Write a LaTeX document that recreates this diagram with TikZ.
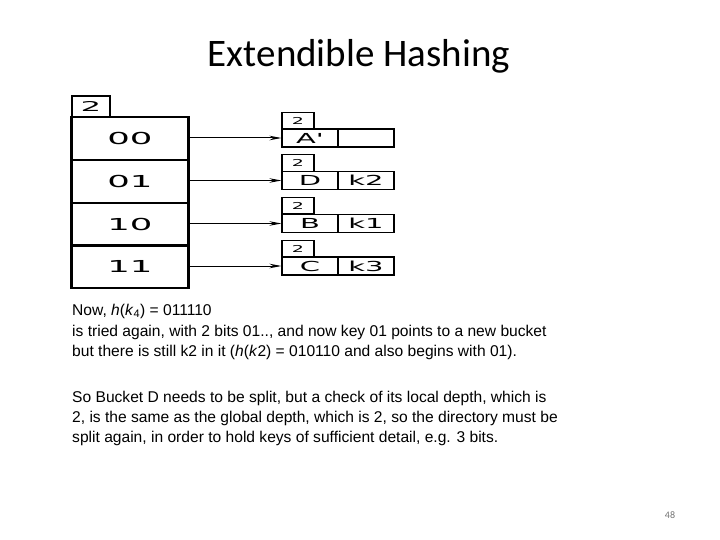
\documentclass[tikz,border=0pt]{standalone}
\usepackage{fontspec}
\setmainfont{Liberation Sans}
\newfontfamily\titlefont{Carlito}
\newfontfamily\diagfont{DejaVu Sans}
\usetikzlibrary{arrows.meta}
\newcommand\widetxt[2]{\scalebox{#1}[1]{#2}}
\begin{document}
\begin{tikzpicture}[x=1pt,y=-1pt,
  dirrow/.style={minimum width=116pt,minimum height=42.5pt,inner sep=0pt,font=\diagfont\fontsize{16.5}{18}\selectfont},
  dirline/.style={line width=2.8pt},
  gdepth/.style={draw,line width=1.6pt,minimum width=38pt,minimum height=21pt,inner sep=0pt,font=\diagfont\fontsize{13.5}{15}\selectfont},
  ldepth/.style={draw,line width=1.1pt,minimum width=32pt,minimum height=16.5pt,inner sep=0pt,font=\diagfont\fontsize{9.5}{11}\selectfont},
  cell/.style={draw,line width=1.1pt,minimum width=56pt,minimum height=18pt,inner sep=0pt,font=\diagfont\fontsize{13.8}{15}\selectfont},
  ptr/.style={line width=1pt,-{Stealth[length=12pt,width=4.5pt]}},
  txt/.style={anchor=base west,inner sep=0pt,font=\fontsize{15.6}{18}\selectfont}]
\useasboundingbox (0,0) rectangle (720,540);
\node[anchor=base,inner sep=0pt,font=\titlefont\fontsize{39}{44}\selectfont] (title) at (359,67) {Extendible Hashing};
% global depth
\node[gdepth] (g) at (91,106.5) {\widetxt{2.4}{2}};
% directory
\node[dirrow] (d00) at (130,138.5) {\widetxt{2.15}{00}};
\node[dirrow] (d01) at (130,181.5) {\widetxt{2.15}{01}};
\node[dirrow] (d10) at (130,224) {\widetxt{2.15}{10}};
\node[dirrow] (d11) at (130,266.5) {\widetxt{2.15}{11}};
\draw[dirline] (d00.north west) rectangle (d11.south east);
\draw[dirline] (d00.south west) -- (d00.south east);
\draw[dirline] (d01.south west) -- (d01.south east);
\draw[dirline] (d10.south west) -- (d10.south east);
% buckets
\node[ldepth] (l1) at (298,121) {\widetxt{2}{2}};
\node[cell] (a1) at (310,138) {\widetxt{2.1}{A'}};
\node[cell] (b1) at (366,138) {};
\node[ldepth] (l2) at (298,163) {\widetxt{2}{2}};
\node[cell] (a2) at (310,180.5) {\widetxt{2.1}{D}};
\node[cell] (b2) at (366,180.5) {\widetxt{2.1}{k2}};
\node[ldepth] (l3) at (298,205.5) {\widetxt{2}{2}};
\node[cell] (a3) at (310,223.5) {\widetxt{2.1}{B}};
\node[cell] (b3) at (366,223.5) {\widetxt{2.1}{k1}};
\node[ldepth] (l4) at (298,248.5) {\widetxt{2}{2}};
\node[cell] (a4) at (310,266) {\widetxt{2.1}{C}};
\node[cell] (b4) at (366,266) {\widetxt{2.1}{k3}};
% pointers
\draw[ptr] (d00.east |- a1.west) -- (a1.west);
\draw[ptr] (d01.east |- a2.west) -- (a2.west);
\draw[ptr] (d10.east |- a3.west) -- (a3.west);
\draw[ptr] (d11.east |- a4.west) -- (a4.west);
% text
\node[txt] (t1) at (72,315) {Now, \textit{h}(\textit{k}\textsubscript{4}) = 011110};
\node[txt] (t2) at (72,336) {is tried again, with 2 bits 01.., and now key 01 points to a new bucket};
\node[txt] (t3) at (72,356) {but there is still k2 in it (\textit{h}(\textit{k}2) = 010110 and also begins with 01).};
\node[txt] (t4) at (72,402) {So Bucket D needs to be split, but a check of its local depth, which is};
\node[txt] (t5) at (72,422) {2, is the same as the global depth, which is 2, so the directory must be};
\node[txt] (t6) at (72,442) {split again, in order to hold keys of sufficient detail, e.g. 3 bits.};
\node[anchor=base,inner sep=0pt,text=black!55,font=\titlefont\fontsize{10}{12}\selectfont] (pg) at (670,518) {48};
\end{tikzpicture}
\end{document}
